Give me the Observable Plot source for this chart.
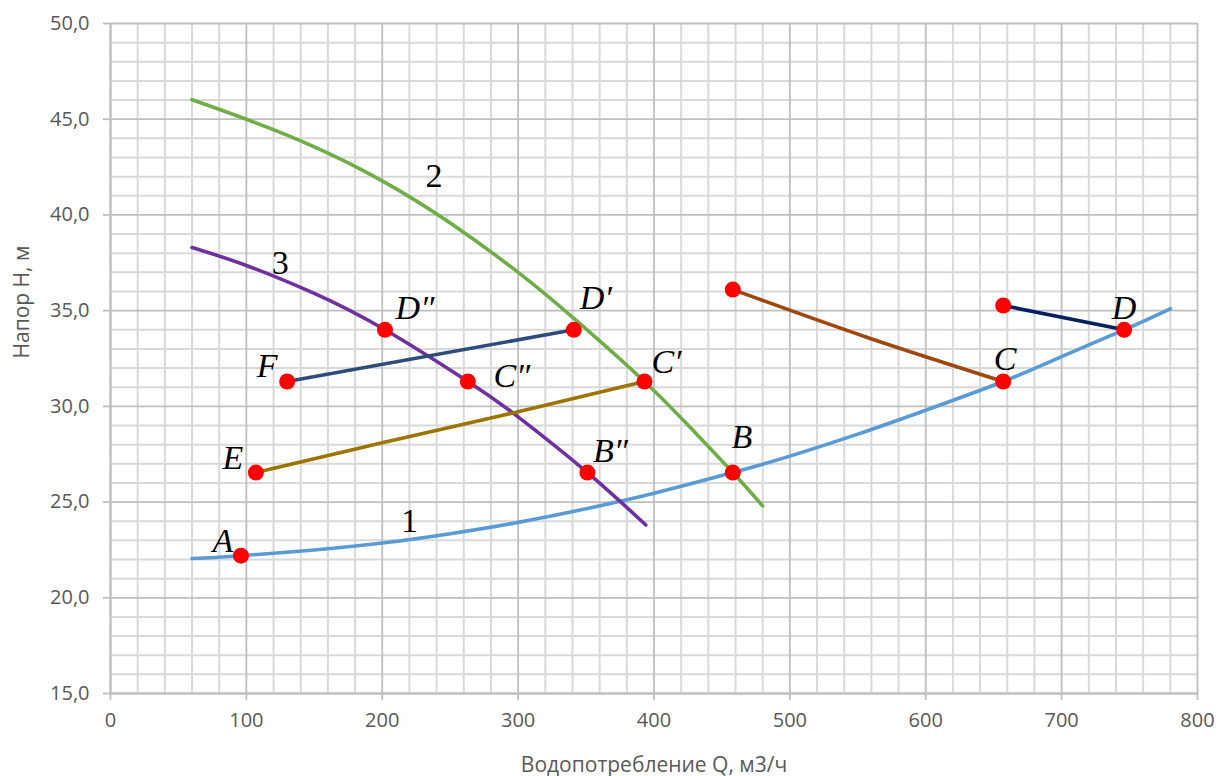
<!DOCTYPE html>
<html><head><meta charset="utf-8">
<script src="https://cdn.jsdelivr.net/npm/d3@7"></script>
<script src="https://cdn.jsdelivr.net/npm/@observablehq/plot@0.6"></script>
<style>body{margin:0;background:#fff}</style>
</head><body><div id="chart"></div>
<script>
// ---- data ----
const xTicks = [0, 100, 200, 300, 400, 500, 600, 700, 800];
const yTicks = [15, 20, 25, 30, 35, 40, 45, 50];

// curve 1 (system characteristic)
const curve1Q = [60, 96, 150, 200, 250, 300, 350, 400, 458, 500, 550, 600, 657, 700, 746, 780];
const curve1H = [22.05, 22.2, 22.5, 22.86, 23.35, 23.94, 24.65, 25.46, 26.54, 27.4, 28.55, 29.8, 31.3, 32.6, 34.0, 35.1];
// curve 2 (pump)
const curve2Q = [60, 100, 150, 200, 250, 300, 341, 393, 430, 458, 480];
const curve2H = [46.02, 45.0, 43.56, 41.78, 39.58, 37.0, 34.6, 31.3, 28.65, 26.54, 24.8];
// curve 3 (pump)
const curve3Q = [60, 100, 150, 202, 263, 299, 351, 394];
const curve3H = [38.3, 37.36, 35.9, 34.0, 31.3, 29.5, 26.54, 23.8];
// connecting lines
const lineECQ = [107, 200, 300, 393];
const lineECH = [26.54, 28.1, 29.72, 31.3];
const lineFDQ = [130, 341];
const lineFDH = [31.3, 34.0];
const lineBrownQ = [458, 557, 657];
const lineBrownH = [36.1, 33.6, 31.3];
const lineNavyQ = [657, 746];
const lineNavyH = [35.27, 34.0];

// red points
const pointNames = ["A", "B", "B\u2033", "C", "C\u2032", "C\u2033", "D", "D\u2032", "D\u2033", "E", "F", "", ""];
const pointQ = [96, 458, 351, 657, 393, 263, 746, 341, 202, 107, 130, 458, 657];
const pointH = [22.2, 26.54, 26.54, 31.3, 31.3, 31.3, 34.0, 34.0, 34.0, 26.54, 31.3, 36.1, 35.27];

// curve number labels
const curveLabelText = ["1", "2", "3"];
const curveLabelQ = [220, 238, 125];
const curveLabelH = [24.03, 42.03, 37.49];

// ---- styling (not data) ----
const labelOffset = {
  "A": [-18, -15], "B": [9, -35], "B\u2033": [23, -21], "C": [2, -22], "C\u2032": [22, -19],
  "C\u2033": [44, -5], "D": [0, -22], "D\u2032": [22, -32], "D\u2033": [30, -22], "E": [-23, -14], "F": [-20, -15]
};
const rows = (qs, hs) => qs.map((q, i) => ({Q: q, H: hs[i]}));
const series = [
  {rows: rows(curve1Q, curve1H), color: "#5B9BD5"},
  {rows: rows(curve2Q, curve2H), color: "#70AD47"},
  {rows: rows(curve3Q, curve3H), color: "#7030A0"},
  {rows: rows(lineECQ, lineECH), color: "#9C7400"},
  {rows: rows(lineFDQ, lineFDH), color: "#2F4B7C"},
  {rows: rows(lineBrownQ, lineBrownH), color: "#9E480E"},
  {rows: rows(lineNavyQ, lineNavyH), color: "#002060"}
];
const points = pointNames.map((n, i) => ({name: n, Q: pointQ[i], H: pointH[i]}));
const curveLabels = curveLabelText.map((t, i) => ({t, Q: curveLabelQ[i], H: curveLabelH[i]}));

const fmtY = d => d.toFixed(1).replace(".", ",");
const minorX = d3.range(0, 801, 20).filter(d => d % 100 !== 0);
const minorY = d3.range(15, 51, 1).filter(d => d % 5 !== 0);

const marks = [
  Plot.ruleX(minorX, {stroke: "#D9D9D9", strokeWidth: 2}),
  Plot.ruleY(minorY, {stroke: "#D9D9D9", strokeWidth: 2}),
  Plot.ruleX(xTicks, {stroke: "#BFBFBF", strokeWidth: 1.8}),
  Plot.ruleY(yTicks, {stroke: "#BFBFBF", strokeWidth: 1.8}),
  Plot.ruleX([0], {stroke: "#BFBFBF", strokeWidth: 2}),
  Plot.ruleY([15], {stroke: "#BFBFBF", strokeWidth: 2}),
  Plot.axisX(xTicks, {tickSize: 7, tickPadding: 12, stroke: "#BFBFBF", strokeWidth: 1.8, fill: "#595959", fontSize: 20, label: null, tickFormat: d => String(d)}),
  Plot.axisY(yTicks, {tickSize: 7, tickPadding: 14, stroke: "#BFBFBF", strokeWidth: 1.8, fill: "#595959", fontSize: 20, label: null, tickFormat: fmtY}),
  ...series.map(s => Plot.line(s.rows, {x: "Q", y: "H", stroke: s.color, strokeWidth: 3.6, curve: "natural", strokeLinecap: "round"})),
  Plot.dot(points, {x: "Q", y: "H", r: 8, fill: "#FF0000", stroke: "none"}),
  ...points.filter(p => p.name).map(p => Plot.text([p], {
    x: "Q", y: "H", text: "name", dx: labelOffset[p.name][0], dy: labelOffset[p.name][1],
    fontFamily: "Liberation Serif", fontStyle: "italic", fontSize: 34, fill: "#000", textAnchor: "middle", lineAnchor: "middle"
  })),
  Plot.text(curveLabels, {x: "Q", y: "H", text: "t", fontFamily: "Liberation Serif", fontSize: 34, fill: "#000", textAnchor: "middle", lineAnchor: "middle"}),
  Plot.text(["Водопотребление Q, м3/ч"], {text: d => d, frameAnchor: "bottom", dy: 72, fontSize: 21, fill: "#595959", lineAnchor: "middle"}),
  Plot.text(["Напор Н, м"], {text: d => d, frameAnchor: "left", dx: -88, rotate: -90, fontSize: 21, fill: "#595959", lineAnchor: "middle"})
];

const chart = Plot.plot({
  width: 1223, height: 776,
  marginLeft: 110, marginRight: 26, marginTop: 23, marginBottom: 83,
  x: {domain: [0, 800]},
  y: {domain: [15, 50]},
  style: {fontFamily: "Open Sans", background: "#fff", overflow: "visible"},
  marks
});
document.getElementById("chart").appendChild(chart);
</script>
</body></html>
